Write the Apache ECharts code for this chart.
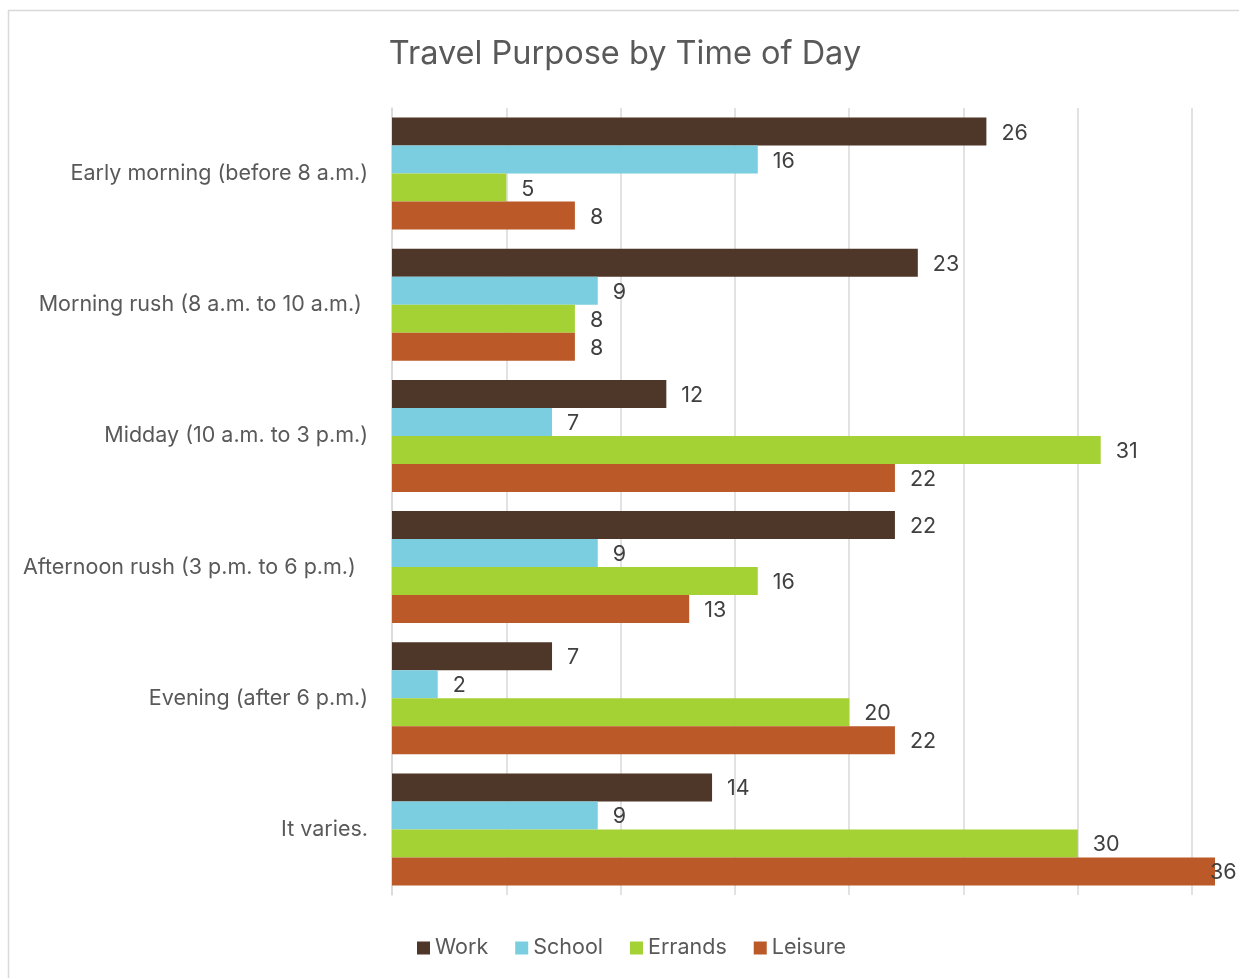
<!DOCTYPE html>
<html>
<head>
<meta charset="utf-8">
<script src="https://cdn.jsdelivr.net/npm/echarts@6/dist/echarts.min.js"></script>
<style>
  html, body { margin: 0; padding: 0; background: #fff; }
  #chart { width: 1239px; height: 978px; }
</style>
</head>
<body>
<div id="chart"></div>
<script>
// Time-of-day categories (trailing spaces kept as in the source labels)
const categories = [
  'Early morning (before 8 a.m.)',
  'Morning rush (8 a.m. to 10 a.m.) ',
  'Midday (10 a.m. to 3 p.m.)',
  'Afternoon rush (3 p.m. to 6 p.m.)  ',
  'Evening (after 6 p.m.)',
  'It varies.'
];
const seriesNames = ['Work', 'School', 'Errands', 'Leisure'];
const work    = [26, 23, 12, 22, 7, 14];
const school  = [16, 9, 7, 9, 2, 9];
const errands = [5, 8, 31, 16, 20, 30];
const leisure = [8, 8, 22, 13, 22, 36];
const xTicks  = [0, 5, 10, 15, 20, 25, 30, 35];

const colors = ['#4e3629', '#7bcee0', '#a4d234', '#bb5929'];
const FONT = 'Inter, "Open Sans", sans-serif';
const AXIS_MAX = 36;

const chart = echarts.init(document.getElementById('chart'), null, { renderer: 'canvas' });

function buildSeries(name, values, color) {
  return {
    name: name,
    type: 'bar',
    barWidth: 28,
    barGap: '0%',
    itemStyle: { color: color },
    label: {
      show: true,
      position: 'right',
      distance: 15,
      offset: [0, 1.5],
      color: '#404040',
      fontFamily: FONT,
      fontSize: 21.5
    },
    // a bar reaching the axis end keeps its label inside the frame
    data: values.map(v => v >= AXIS_MAX ? { value: v, label: { distance: -5 } } : v)
  };
}

// split lines only at the major ticks, not at the axis end
const splitColors = xTicks.map(() => '#d9d9d9').concat(['rgba(0,0,0,0)']);

chart.setOption({
  backgroundColor: '#ffffff',
  animation: false,
  color: colors,
  title: {
    text: 'Travel Purpose by Time of Day',
    left: 620,
    textAlign: 'center',
    top: 33,
    textStyle: { fontFamily: FONT, fontSize: 32.5, fontWeight: 'normal', color: '#595959' }
  },
  graphic: [{
    type: 'rect',
    shape: { x: 8.5, y: 10.5, width: 1300, height: 1100 },
    style: { fill: null, stroke: '#d9d9d9', lineWidth: 1.5 },
    silent: true,
    z: -10
  }],
  legend: {
    bottom: 14,
    left: 412,
    itemWidth: 13,
    itemHeight: 13,
    itemGap: 27,
    icon: 'rect',
    textStyle: { fontFamily: FONT, fontSize: 21.5, color: '#595959' },
    data: seriesNames
  },
  grid: { left: 392, right: 24, top: 108, bottom: 83, containLabel: false },
  xAxis: {
    type: 'value',
    min: 0,
    max: AXIS_MAX,
    interval: 5,
    axisLabel: { show: false },
    axisLine: { show: false },
    axisTick: { show: false },
    splitLine: { show: true, lineStyle: { color: splitColors, width: 1.5 } }
  },
  yAxis: {
    type: 'category',
    inverse: true,
    data: categories,
    axisLine: { show: true, lineStyle: { color: '#d9d9d9', width: 1.5 } },
    axisTick: { show: false },
    axisLabel: { margin: 24, fontFamily: FONT, fontSize: 21.5, color: '#595959' }
  },
  series: [
    buildSeries(seriesNames[0], work, colors[0]),
    buildSeries(seriesNames[1], school, colors[1]),
    buildSeries(seriesNames[2], errands, colors[2]),
    buildSeries(seriesNames[3], leisure, colors[3])
  ]
});
</script>
</body>
</html>
